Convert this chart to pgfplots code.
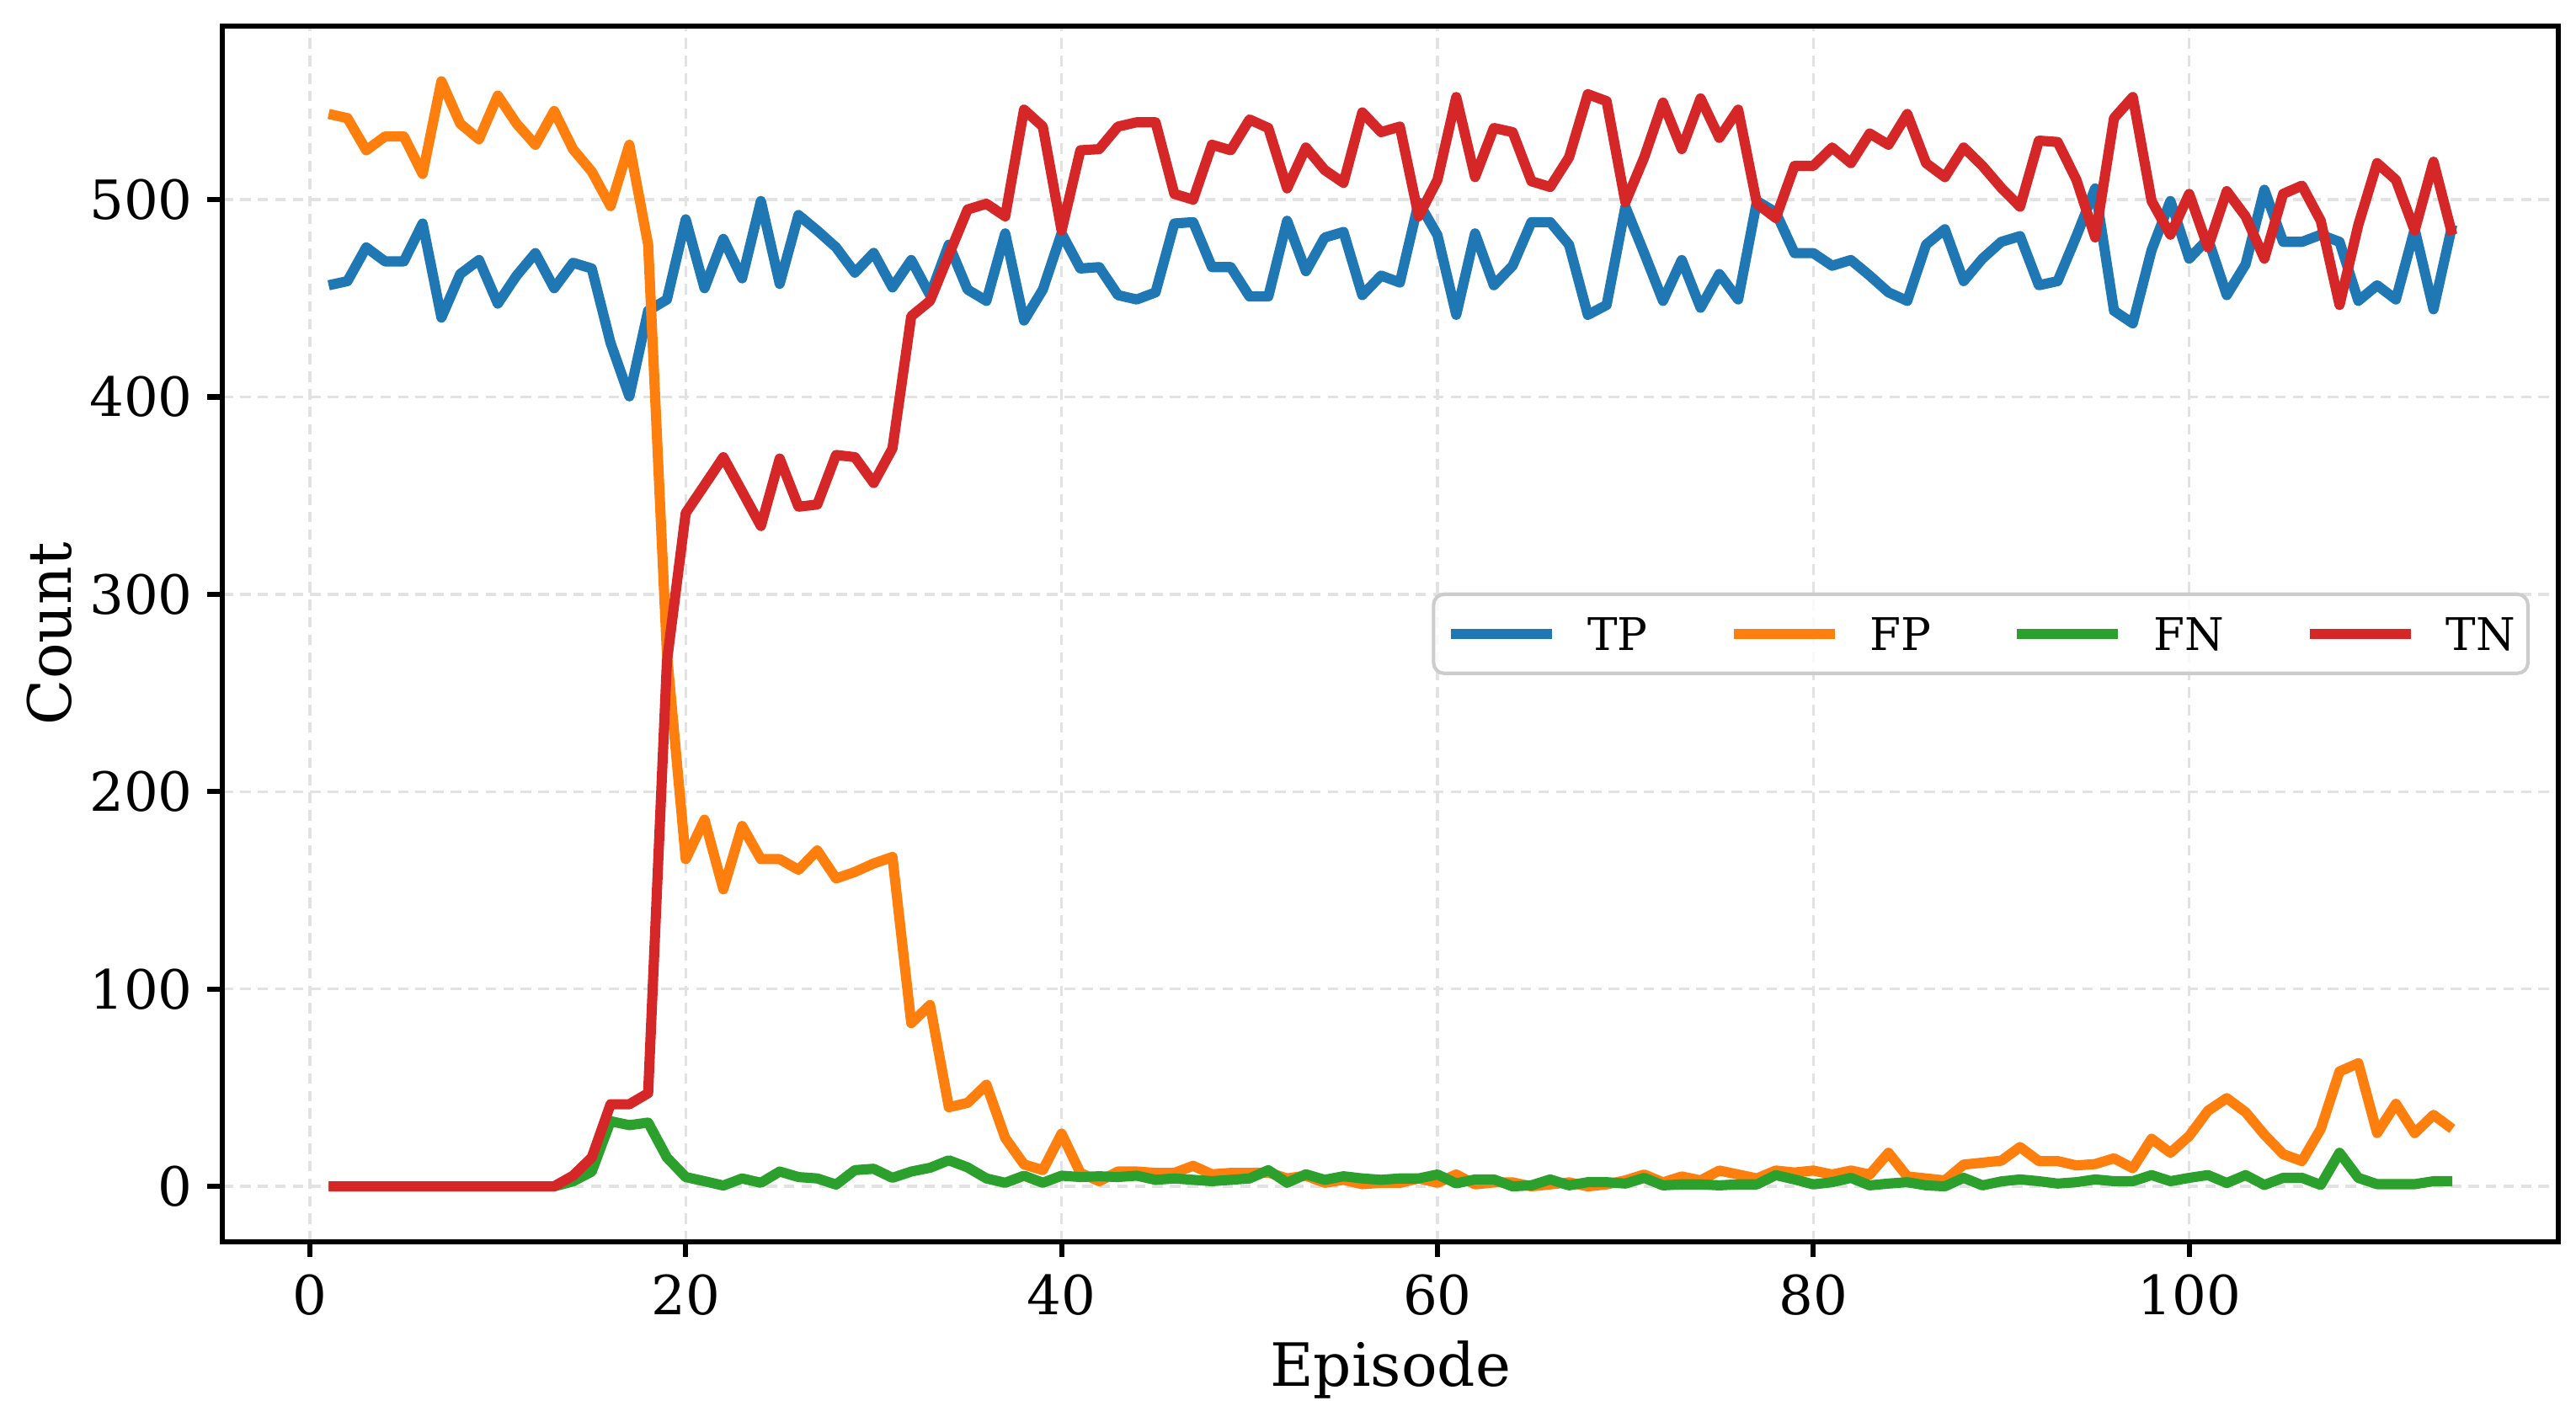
\documentclass[border=0pt]{standalone}
\usepackage{fontspec}
\setmainfont{DejaVu Serif}
\usepackage{pgfplots}
\usepackage{pgfplotstable}
\pgfplotsset{compat=1.18}
\definecolor{tpc}{HTML}{1F77B4}
\definecolor{fpc}{HTML}{FF7F0E}
\definecolor{fnc}{HTML}{2CA02C}
\definecolor{tnc}{HTML}{D62728}
\definecolor{gridc}{RGB}{226,226,226}
\definecolor{legc}{RGB}{204,204,204}

\pgfplotstableread{
ep tp fp fn tn
1 456.6 543.4 0 0
2 458.7 541.3 0 0
3 475.8 525.0 0 0
4 468.7 532.0 0 0
5 468.7 532.0 0 0
6 487.9 513.0 0 0
7 440.2 560.0 0 0
8 462.3 538.5 0 0
9 469.4 530.6 0 0
10 447.3 552.7 0 0
11 461.5 538.5 0 0
12 472.9 527.8 0 0
13 455.1 544.9 0 0
14 468.0 525.6 2.5 5.4
15 465.1 514.2 7.5 14.6
16 427.4 496.7 33.0 41.6
17 400.3 527.8 31.0 41.6
18 443.7 477.2 32.3 47.2
19 449.4 270.0 14.6 266.0
20 490.0 165.8 4.7 341.2
21 455.1 185.8 2.6 355.3
22 480.1 150.5 0.4 369.5
23 460.1 182.6 4.0 352.1
24 499.3 165.8 1.8 334.6
25 457.3 165.8 7.5 368.8
26 492.2 160.4 4.7 344.4
27 484.3 170.2 4.0 345.5
28 475.8 156.0 0.9 370.6
29 463.0 159.3 8.2 369.5
30 473.0 163.6 8.9 356.4
31 455.5 166.9 4.3 373.9
32 469.4 82.7 7.5 440.9
33 451.6 91.9 9.4 448.7
34 477.2 40.1 13.2 472.0
35 454.4 42.3 9.6 495.0
36 448.7 51.5 4.0 497.9
37 482.9 24.5 1.8 491.5
38 438.7 11.1 5.4 545.6
39 454.4 8.2 1.8 537.0
40 482.9 26.7 5.4 484.3
41 465.1 6.8 4.7 525.0
42 465.8 2.6 5.1 525.6
43 451.6 7.5 4.7 537.0
44 449.4 7.5 5.4 539.2
45 453.0 6.8 3.3 539.2
46 487.9 6.8 4.0 502.9
47 488.6 10.4 3.3 500.0
48 465.8 6.1 2.6 527.8
49 465.8 6.8 3.3 525.0
50 450.9 6.8 4.0 540.6
51 450.9 7.0 8.2 536.3
52 489.3 4.0 1.8 505.7
53 463.7 5.4 6.1 526.4
54 480.8 1.8 3.3 515.0
55 483.6 3.3 5.1 508.5
56 451.6 1.1 4.0 544.2
57 461.5 1.8 3.3 534.2
58 458.0 1.8 4.0 537.0
59 498.6 4.0 4.0 491.5
60 482.0 1.8 6.0 510.0
61 441.6 6.0 1.5 552.0
62 482.9 1.0 3.5 511.4
63 456.6 2.0 3.5 536.3
64 466.5 2.0 0.0 534.2
65 488.6 0.0 0.5 509.3
66 488.6 1.0 3.5 506.4
67 477.2 2.0 0.5 521.4
68 441.6 0.0 2.1 553.4
69 446.6 1.0 2.1 549.9
70 496.4 3.0 1.4 498.6
71 472.9 6.0 4.3 521.4
72 448.7 2.0 0.5 549.2
73 469.4 5.0 1.0 525.6
74 445.2 3.0 1.0 551.3
75 462.3 8.0 0.5 531.3
76 449.4 6.0 1.0 545.6
77 499.3 4.0 1.0 497.9
78 493.6 8.0 5.7 490.7
79 472.9 7.0 3.5 517.1
80 472.9 8.0 1.0 517.1
81 466.5 6.0 2.1 526.4
82 469.4 8.0 4.3 518.5
83 461.5 6.0 0.5 533.5
84 453.0 17.0 1.4 527.8
85 448.7 5.0 2.1 543.4
86 477.2 4.0 0.5 518.5
87 485.0 3.0 0.0 511.4
88 458.7 11.0 4.3 526.4
89 470.1 12.0 0.5 517.1
90 478.6 13.0 2.5 506.0
91 481.5 19.9 3.5 496.4
92 456.6 12.8 2.6 529.9
93 458.7 12.8 1.4 529.2
94 481.5 10.6 2.1 510.0
95 505.7 11.3 3.5 480.8
96 443.7 14.2 2.6 541.3
97 437.3 9.2 2.6 552.0
98 474.4 24.1 5.7 499.3
99 499.3 17.0 2.6 482.2
100 470.1 25.5 4.3 502.9
101 480.1 38.3 5.7 475.8
102 451.6 44.7 1.7 504.3
103 467.2 37.6 5.7 491.5
104 505.0 26.2 0.7 470.1
105 478.6 16.3 4.3 502.9
106 478.6 12.8 4.3 507.1
107 482.2 29.1 0.7 489.3
108 478.6 58.2 17.0 446.6
109 448.7 62.4 4.3 487.2
110 456.6 27.0 1.1 518.5
111 449.4 41.8 1.1 510.0
112 485.0 27.0 1.1 484.3
113 444.4 36.2 2.6 519.2
114 487.2 29.1 2.6 482.2
}\datatable

\begin{document}
\begin{tikzpicture}
\begin{axis}[
  scale only axis,
  width=665.7pt, height=346.5pt,
  xmin=-4.65, xmax=119.65, ymin=-28, ymax=588,
  xtick={0,20,40,60,80,100},
  ytick={0,100,200,300,400,500},
  tick align=outside, tick pos=left,
  major tick length=4.3pt,
  every tick/.style={black, line width=1.5pt},
  axis line style={line width=1.5pt},
  grid=major,
  major grid style={draw=gridc, line width=0.8pt, dash pattern=on 3pt off 2pt},
  /pgf/number format/assume math mode=true,
  tick label style={font=\fontsize{15.4}{18}\selectfont},
  xticklabel style={anchor=north, inner sep=0pt, yshift=-4.8pt},
  yticklabel style={anchor=east, inner sep=0pt, xshift=-4pt},
  xlabel={Episode},
  ylabel={Count},
  xlabel style={at={([yshift=-41.3pt]axis description cs:0.5,0)}, anchor=base, inner sep=0pt, font=\fontsize{17}{20}\selectfont},
  ylabel style={at={([xshift=-43.2pt]axis description cs:0,0.5)}, anchor=base, inner sep=0pt, font=\fontsize{17}{20}\selectfont},
  legend columns=4,
  legend style={at={([xshift=-8.2pt]axis description cs:1,0.5)}, anchor=east,
    draw=legc, line width=1pt, rounded corners=3pt, fill=white, fill opacity=0.8, text opacity=1,
    font=\fontsize{12.8}{15}\selectfont, inner xsep=3.6pt, inner ysep=6.6pt,
    nodes={inner sep=0pt, text depth=0pt},
    /tikz/every odd column/.append style={column sep=8.6pt},
    /tikz/every even column/.append style={column sep=23pt}},
  legend cell align=left,
  legend image code/.code={\draw[line width=2.9pt, line cap=butt] (0pt,0pt) -- (28.8pt,0pt);},
]
\addplot[tpc, line width=2.9pt, line join=round] table[x=ep, y=tp] {\datatable};
\addlegendentry{TP}
\addplot[fpc, line width=2.9pt, line join=round] table[x=ep, y=fp] {\datatable};
\addlegendentry{FP}
\addplot[fnc, line width=2.9pt, line join=round] table[x=ep, y=fn] {\datatable};
\addlegendentry{FN}
\addplot[tnc, line width=2.9pt, line join=round] table[x=ep, y=tn] {\datatable};
\addlegendentry{TN}
\coordinate (sw) at (rel axis cs:0,0);
\coordinate (ne) at (rel axis cs:1,1);
\end{axis}
\pgfresetboundingbox
\path[use as bounding box] ([shift={(-63.4pt,-51.3pt)}]sw) rectangle ([shift={(5pt,7.4pt)}]ne);
\end{tikzpicture}
\end{document}
